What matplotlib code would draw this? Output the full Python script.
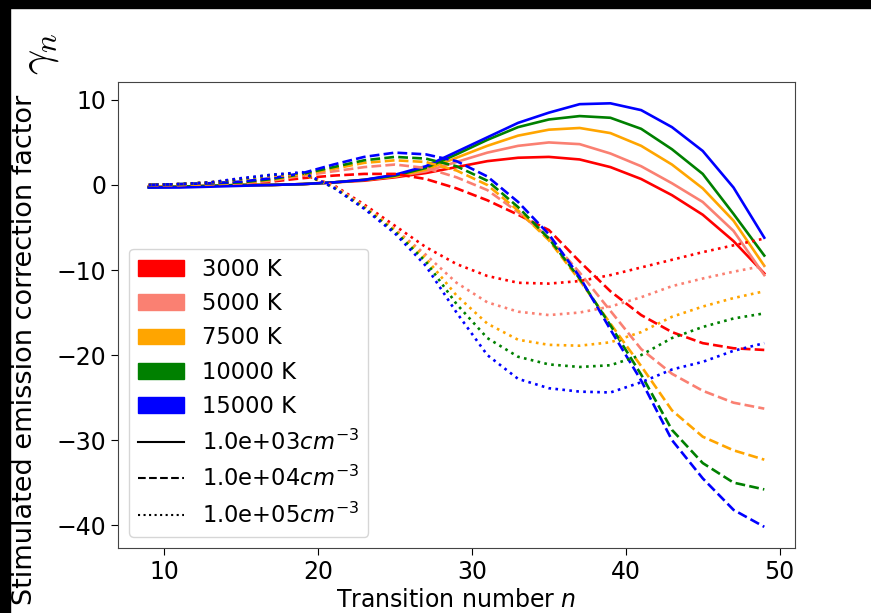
import matplotlib

matplotlib.use("Agg")
import matplotlib.pyplot as plt
from matplotlib.lines import Line2D
from matplotlib.patches import Patch, Rectangle

# transition numbers (every second level)
n = [9, 11, 13, 15, 17, 19, 21, 23, 25, 27, 29, 31, 33, 35, 37, 39, 41, 43, 45, 47, 49]

temps = ["3000 K", "5000 K", "7500 K", "10000 K", "15000 K"]
colors = ["red", "salmon", "orange", "green", "blue"]
densities = ["1.0e+03$cm^{-3}$", "1.0e+04$cm^{-3}$", "1.0e+05$cm^{-3}$"]
styles = ["-", "--", ":"]

# gamma_n for density 1e3
g_1e3 = [
    [-0.2, -0.2, -0.1, 0.0, 0.0, 0.1, 0.3, 0.5, 0.9, 1.4, 2.1, 2.8, 3.2, 3.3, 3.0, 2.1, 0.7, -1.2, -3.5, -6.6, -10.4],
    [-0.2, -0.2, -0.1, 0.0, 0.0, 0.1, 0.3, 0.6, 1.0, 1.6, 2.7, 3.8, 4.6, 5.0, 4.8, 3.7, 2.2, 0.2, -2.0, -5.4, -10.6],
    [-0.2, -0.2, -0.1, 0.0, 0.0, 0.1, 0.3, 0.6, 1.0, 1.8, 3.2, 4.6, 5.8, 6.5, 6.7, 6.1, 4.6, 2.4, -0.4, -4.2, -9.5],
    [-0.3, -0.2, -0.1, 0.0, 0.0, 0.1, 0.3, 0.6, 1.1, 2.0, 3.6, 5.3, 6.8, 7.7, 8.1, 7.9, 6.6, 4.2, 1.3, -3.4, -8.3],
    [-0.3, -0.3, -0.2, -0.1, 0.0, 0.1, 0.3, 0.6, 1.2, 2.2, 3.9, 5.6, 7.3, 8.5, 9.5, 9.6, 8.8, 6.8, 4.0, -0.3, -6.2],
]

# gamma_n for density 1e4
g_1e4 = [
    [0.0, 0.0, 0.1, 0.2, 0.4, 0.8, 1.1, 1.3, 1.3, 0.7, -0.4, -1.8, -3.5, -5.3, -9.0, -12.5, -15.3, -17.3, -18.6, -19.2, -19.4],
    [0.0, 0.0, 0.1, 0.2, 0.5, 1.1, 1.6, 2.1, 2.4, 2.0, 0.9, -0.6, -3.2, -6.2, -10.3, -14.8, -19.3, -22.2, -24.2, -25.6, -26.3],
    [0.0, 0.0, 0.1, 0.3, 0.6, 1.2, 1.9, 2.6, 2.9, 2.7, 1.7, 0.0, -3.0, -6.5, -11.2, -16.3, -21.3, -26.5, -29.6, -31.2, -32.3],
    [0.0, 0.1, 0.2, 0.3, 0.7, 1.3, 2.1, 2.9, 3.3, 3.1, 2.2, 0.5, -2.6, -6.3, -11.0, -16.5, -22.3, -28.8, -32.7, -35.0, -35.8],
    [0.0, 0.1, 0.2, 0.4, 0.8, 1.4, 2.4, 3.3, 3.8, 3.6, 2.8, 1.0, -2.0, -5.8, -10.8, -17.0, -23.0, -30.0, -34.5, -38.2, -40.2],
]

# gamma_n for density 1e5
g_1e5 = [
    [0.0, 0.1, 0.3, 0.7, 1.1, 1.2, 0.0, -2.3, -4.8, -7.3, -9.3, -10.7, -11.5, -11.6, -11.3, -10.6, -9.7, -8.8, -7.9, -7.1, -6.3],
    [0.0, 0.1, 0.3, 0.7, 1.1, 1.2, -0.1, -2.5, -5.2, -8.2, -11.5, -13.8, -14.9, -15.3, -15.0, -14.3, -13.2, -11.9, -11.0, -10.2, -9.5],
    [0.0, 0.1, 0.3, 0.7, 1.1, 1.3, -0.2, -2.6, -5.3, -8.6, -13.0, -16.3, -18.2, -18.8, -18.9, -18.5, -17.3, -15.5, -14.3, -13.3, -12.5],
    [0.0, 0.1, 0.3, 0.7, 1.2, 1.4, -0.3, -2.7, -5.5, -9.0, -14.0, -18.0, -20.2, -21.1, -21.4, -21.2, -20.0, -18.0, -16.7, -15.7, -15.1],
    [0.0, 0.1, 0.3, 0.8, 1.2, 1.5, -0.3, -2.8, -5.7, -9.5, -15.0, -20.0, -22.8, -23.9, -24.3, -24.4, -23.2, -21.7, -20.8, -19.5, -18.6],
]

fig = plt.figure(figsize=(8.71, 6.13), dpi=100)
ax = fig.add_axes([0.1355, 0.106, 0.7773, 0.760])

for series, ls in zip([g_1e3, g_1e4, g_1e5], styles):
    for vals, c in zip(series, colors):
        ax.plot(n, vals, color=c, linestyle=ls, linewidth=1.9)

ax.set_xticks([10, 20, 30, 40, 50])
ax.set_yticks([10, 0, -10, -20, -30, -40])
ax.tick_params(labelsize=17, length=5)
for s in ax.spines.values():
    s.set_color("#444444")
ax.set_xlabel("Transition number $n$", fontsize=17, labelpad=3)

handles = [Patch(color=c, label=t) for c, t in zip(colors, temps)]
handles += [Line2D([], [], color="black", linestyle=ls, label=d) for ls, d in zip(styles, densities)]
ax.legend(handles=handles, loc="lower left", fontsize=16.3, handlelength=2.0, labelspacing=0.5,
          bbox_to_anchor=(0.0, 0.0))

fig.text(0.029, 0.429, "Stimulated emission correction factor", rotation=90,
         fontsize=19.5, ha="center", va="center")
fig.text(0.045, 0.912, r"$\gamma_n$", rotation=90, fontsize=32, ha="center",
         va="center", math_fontfamily="cm")

# black frame strips at the top and left edges
fig.patches.append(Rectangle((0, 1 - 8 / 613), 1, 8 / 613, transform=fig.transFigure,
                             color="black", zorder=10))
fig.patches.append(Rectangle((0, 0), 10 / 871, 1, transform=fig.transFigure,
                             color="black", zorder=10))

fig.savefig("out.png", dpi=100)
